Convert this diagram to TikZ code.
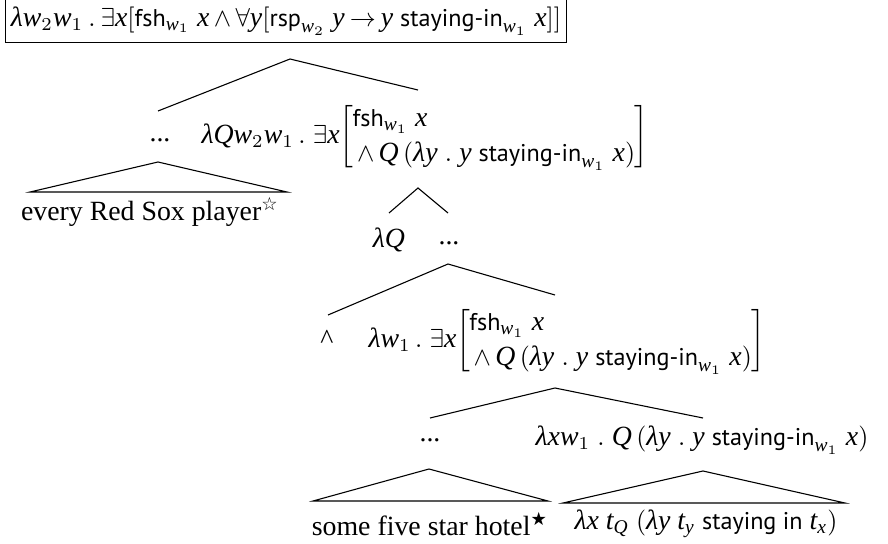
\documentclass[tikz,border=0pt]{standalone}
\usepackage{amsmath}
\usepackage{fontspec}
\setmainfont[Scale=1.07]{Liberation Serif}
\newfontfamily\mitf[NFSSFamily=libsit,Scale=1.07]{Liberation Serif}
\newfontfamily\sanf[Scale=0.93]{PT Sans}
\newfontfamily\symf{DejaVu Sans}
\DeclareSymbolFont{itl}{TU}{libsit}{m}{it}
\Umathcode`x=0 \symitl `x
\Umathcode`y=0 \symitl `y
\Umathcode`w=0 \symitl `w
\Umathcode`t=0 \symitl `t
\Umathcode`Q=0 \symitl `Q
\renewcommand\lambda{\Umathchar 0 \symitl "03BB\relax}
\newcommand\sw[1]{\text{\sanf #1}}
\renewcommand\arraystretch{1.1}
\begin{document}
\begin{tikzpicture}[x=0.3846pt,y=-0.3846pt,
  every node/.style={inner sep=0pt},
  edge/.style={line width=0.42pt},
  roof/.style={line width=0.42pt, line join=miter}]
\useasboundingbox (0,0) rectangle (888,544);

% nodes
\node[draw, line width=0.42pt, inner xsep=2.2pt, inner ysep=2.6pt] (root) at (286,21)
  {$\thickmuskip=3.5mu\medmuskip=3mu\lambda w_2w_1\;.\;\exists x[\sw{fsh}_{w_1}\ x\wedge\forall y[\sw{rsp}_{w_2}\ y\to y\ \sw{staying-in}_{w_1}\ x]]$};

\node (dots1) at (160,140) {...};
\node[anchor=west] (n2) at (201,137)
  {$\lambda Qw_2w_1\,.\;\exists x\!\left[\mskip-0.5mu\begin{array}{@{}l@{}}\sw{fsh}_{w_1}\ x\\ \,\wedge\,Q\,(\lambda y\;.\;y\ \sw{staying-in}_{w_1}\ x)\end{array}\mskip-0.5mu\right]$};
\node (every) at (150,212) {every Red Sox player\textsuperscript{\symf ☆}};

\node (lq) at (389,240) {$\lambda Q$};
\node (dots2) at (449,243) {...};

\node[anchor=base] (caret) at (327,348) {\textasciicircum};
\node[anchor=west] (n3) at (368,341)
  {$\lambda w_1\,.\;\exists x\!\left[\mskip-0.5mu\begin{array}{@{}l@{}}\sw{fsh}_{w_1}\ x\\ \,\wedge\,Q\,(\lambda y\;.\;y\ \sw{staying-in}_{w_1}\ x)\end{array}\mskip-0.5mu\right]$};

\node (dots3) at (430,440) {...};
\node (n4) at (702,440) {$\lambda xw_1\;.\;Q\,(\lambda y\;.\;y\ \sw{staying-in}_{w_1}\ x)$};

\node (hotel) at (430,524) {some five star hotel\textsuperscript{\symf ★}};
\node (trace) at (706,524) {$\lambda x\ t_Q\ (\lambda y\ t_y\ \sw{staying in}\ t_x)$};

% coordinates for branch ends
\coordinate (a1) at (290,59);
\coordinate (a1l) at (158,111);
\coordinate (a1r) at (418,90);
\coordinate (t1) at (158,162);
\coordinate (t1l) at (30,192);
\coordinate (t1r) at (287,192);
\coordinate (a2) at (418,188);
\coordinate (a2l) at (389,213);
\coordinate (a2r) at (448,213);
\coordinate (a3) at (448,264);
\coordinate (a3l) at (328,315);
\coordinate (a3r) at (555,295);
\coordinate (a4) at (555,388);
\coordinate (a4l) at (430,418);
\coordinate (a4r) at (703,418);
\coordinate (t3) at (429,469);
\coordinate (t3l) at (313,501);
\coordinate (t3r) at (548,501);
\coordinate (t4) at (703,471);
\coordinate (t4l) at (563,503);
\coordinate (t4r) at (845,503);

% connectors
\draw[edge] (a1l) -- (a1) -- (a1r);
\draw[edge] (a2l) -- (a2) -- (a2r);
\draw[edge] (a3l) -- (a3) -- (a3r);
\draw[edge] (a4l) -- (a4) -- (a4r);
\draw[roof] (t1) -- (t1l) -- (t1r) -- cycle;
\draw[roof] (t3) -- (t3l) -- (t3r) -- cycle;
\draw[roof] (t4) -- (t4l) -- (t4r) -- cycle;
\end{tikzpicture}
\end{document}
